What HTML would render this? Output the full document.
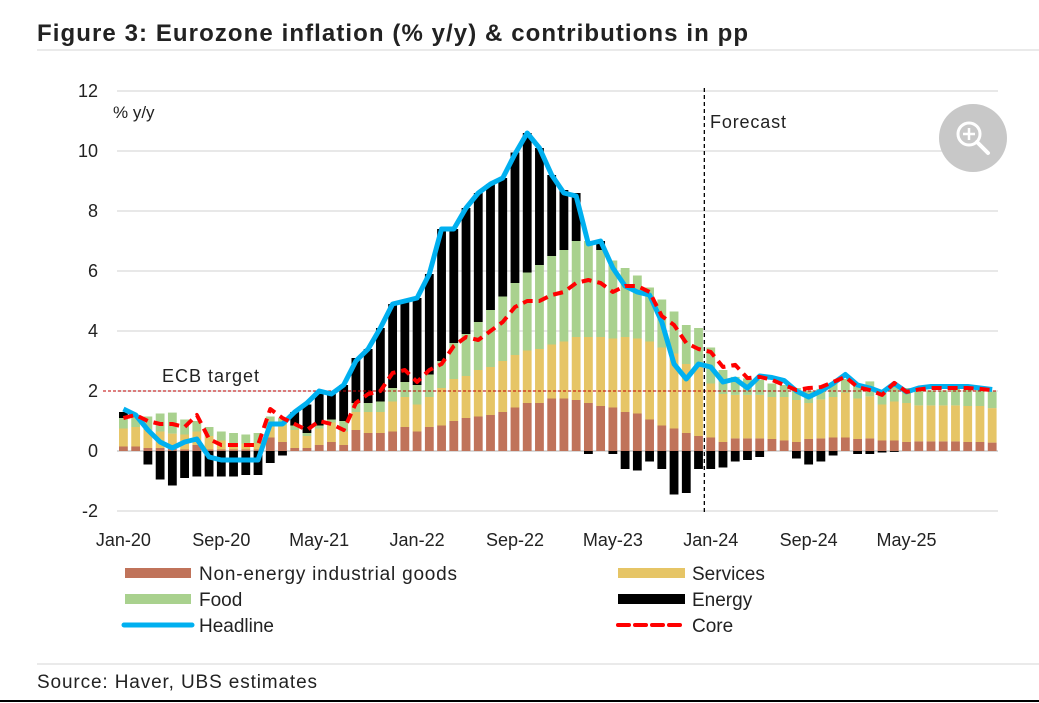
<!DOCTYPE html>
<html><head><meta charset="utf-8"><style>
html,body{margin:0;padding:0;background:#fff;width:1039px;height:703px;overflow:hidden;font-family:"Liberation Sans",sans-serif;}
svg text{font-family:"Liberation Sans",sans-serif;}
</style></head><body>
<svg id="chart" width="1039" height="703" xmlns="http://www.w3.org/2000/svg">
<text x="37" y="41" font-size="24" font-weight="bold" fill="#222" textLength="711" lengthAdjust="spacing">Figure 3: Eurozone inflation (% y/y) &amp; contributions in pp</text>
<line x1="37" y1="50" x2="1039" y2="50" stroke="#d4d4d4" stroke-width="1"/>
<g id="grid"></g><g id="bars"></g><g id="lines"></g><g id="axes"></g>
<text x="113" y="118" font-size="17" fill="#222">% y/y</text>
<text x="162" y="382" font-size="18" fill="#222" textLength="97" lengthAdjust="spacing">ECB target</text>
<text x="710" y="128" font-size="18" fill="#222" textLength="76" lengthAdjust="spacing">Forecast</text>
<g>
<circle cx="973" cy="138" r="34" fill="#c8c8c8"/>
<circle cx="969" cy="134" r="11" fill="none" stroke="#fff" stroke-width="3"/>
<line x1="977" y1="142" x2="988" y2="153" stroke="#fff" stroke-width="4" stroke-linecap="round"/>
<line x1="963" y1="134" x2="975" y2="134" stroke="#fff" stroke-width="2.5"/>
<line x1="969" y1="128" x2="969" y2="140" stroke="#fff" stroke-width="2.5"/>
</g>
<g font-size="19" fill="#222">
<rect x="125" y="568" width="66" height="10" fill="#c0735a"/>
<text x="199" y="580" textLength="258" lengthAdjust="spacing">Non-energy industrial goods</text>
<rect x="125" y="594" width="66" height="10" fill="#a9d18e"/>
<text x="199" y="606">Food</text>
<line x1="124" y1="625" x2="192" y2="625" stroke="#00b0f0" stroke-width="5" stroke-linecap="round"/>
<text x="199" y="632">Headline</text>
<rect x="618" y="568" width="67" height="10" fill="#e6c566"/>
<text x="692" y="580">Services</text>
<rect x="618" y="594" width="67" height="10" fill="#000"/>
<text x="692" y="606">Energy</text>
<line x1="618" y1="625" x2="685" y2="625" stroke="#f00" stroke-width="4" stroke-dasharray="11,6" stroke-linecap="round"/>
<text x="692" y="632">Core</text>
</g>
<line x1="37" y1="664" x2="1039" y2="664" stroke="#d4d4d4"/>
<text x="37" y="688" font-size="19" fill="#222" textLength="280" lengthAdjust="spacing">Source: Haver, UBS estimates</text>
<line x1="0" y1="701" x2="1039" y2="701" stroke="#000" stroke-width="2"/>
</svg>
<script>
const months = ["Jan-20","Feb-20","Mar-20","Apr-20","May-20","Jun-20","Jul-20","Aug-20","Sep-20","Oct-20","Nov-20","Dec-20","Jan-21","Feb-21","Mar-21","Apr-21","May-21","Jun-21","Jul-21","Aug-21","Sep-21","Oct-21","Nov-21","Dec-21","Jan-22","Feb-22","Mar-22","Apr-22","May-22","Jun-22","Jul-22","Aug-22","Sep-22","Oct-22","Nov-22","Dec-22","Jan-23","Feb-23","Mar-23","Apr-23","May-23","Jun-23","Jul-23","Aug-23","Sep-23","Oct-23","Nov-23","Dec-23","Jan-24","Feb-24","Mar-24","Apr-24","May-24","Jun-24","Jul-24","Aug-24","Sep-24","Oct-24","Nov-24","Dec-24","Jan-25","Feb-25","Mar-25","Apr-25","May-25","Jun-25","Jul-25","Aug-25","Sep-25","Oct-25","Nov-25","Dec-25"];
const neig = [0.15,0.15,0.1,0.1,0.08,0.05,0.2,0.05,0.05,0.05,0.05,0.05, 0.45,0.3,0.1,0.1,0.2,0.3,0.2,0.7,0.6,0.6,0.65,0.8, 0.65,0.8,0.85,1.0,1.1,1.15,1.2,1.3,1.45,1.6,1.6,1.75, 1.75,1.7,1.6,1.5,1.45,1.3,1.25,1.05,0.85,0.75,0.6,0.5, 0.45,0.3,0.42,0.42,0.42,0.4,0.35,0.3,0.4,0.42,0.45,0.45, 0.4,0.42,0.35,0.35,0.3,0.32,0.32,0.32,0.32,0.3,0.3,0.28];
const services = [0.6,0.65,0.6,0.55,0.5,0.5,0.45,0.45,0.3,0.2,0.2,0.2, 0.4,0.55,0.6,0.4,0.55,0.65,0.45,0.6,0.7,0.7,1.0,1.0, 0.9,1.0,1.25,1.4,1.4,1.55,1.6,1.7,1.75,1.75,1.8,1.8, 1.9,2.1,2.2,2.3,2.3,2.5,2.5,2.6,2.6,2.5,2.3,2.3, 1.8,1.6,1.45,1.45,1.45,1.4,1.45,1.4,1.2,1.3,1.35,1.5, 1.35,1.4,1.2,1.3,1.3,1.2,1.2,1.2,1.2,1.2,1.2,1.15];
const food = [0.35,0.4,0.45,0.6,0.7,0.5,0.35,0.3,0.3,0.35,0.3,0.35, 0.3,0.25,0.15,0.1,0.1,0.1,0.35,0.3,0.3,0.35,0.45,0.5, 0.65,0.75,0.9,1.2,1.4,1.6,1.9,2.15,2.4,2.6,2.8,2.95, 3.05,3.2,3.2,2.9,2.6,2.3,2.1,1.8,1.6,1.4,1.3,1.3, 1.2,0.8,0.6,0.55,0.5,0.45,0.4,0.4,0.4,0.35,0.45,0.45, 0.5,0.5,0.5,0.5,0.5,0.55,0.5,0.5,0.55,0.55,0.55,0.55];
const energy = [0.2,0.0,-0.45,-0.95,-1.15,-0.9,-0.85,-0.85,-0.85,-0.85,-0.8,-0.8, -0.4,-0.15,0.45,0.95,1.15,0.85,1.2,1.5,1.8,2.45,2.8,2.7, 2.9,3.35,4.4,3.8,4.2,4.3,4.2,3.95,4.35,4.65,3.9,2.7, 2.0,1.6,-0.1,0.3,-0.1,-0.6,-0.65,-0.35,-0.6,-1.45,-1.4,-0.6, -0.6,-0.55,-0.35,-0.3,-0.2,0,0,-0.25,-0.45,-0.35,-0.15,0, -0.1,-0.1,-0.05,-0.03,0,0,0,0,0,0,0,0];
const headline = [1.4,1.2,0.7,0.3,0.1,0.3,0.4,-0.2,-0.3,-0.3,-0.3,-0.3, 0.9,0.9,1.3,1.6,2.0,1.9,2.2,3.0,3.4,4.1,4.9,5.0, 5.1,5.9,7.4,7.4,8.1,8.6,8.9,9.1,9.9,10.6,10.1,9.2, 8.6,8.5,6.9,7.0,6.1,5.5,5.3,5.2,4.3,2.9,2.4,2.9, 2.8,2.3,2.4,2.1,2.5,2.45,2.35,2.0,1.8,2.0,2.25,2.55, 2.2,2.1,1.95,2.25,1.97,2.1,2.15,2.15,2.15,2.15,2.1,2.05];
const core = [1.1,1.2,1.0,0.9,0.9,0.8,1.2,0.4,0.2,0.2,0.2,0.2, 1.4,1.1,0.9,0.7,1.0,0.9,0.7,1.6,1.9,2.0,2.6,2.7, 2.3,2.7,2.9,3.5,3.8,3.7,4.0,4.3,4.8,5.0,5.0,5.2, 5.3,5.6,5.7,5.6,5.3,5.5,5.5,5.3,4.5,4.2,3.6,3.4, 3.3,2.8,2.87,2.43,2.47,2.37,2.2,2.03,2.1,2.13,2.3,2.47, 2.13,2.03,1.87,2.27,1.97,2.05,2.1,2.1,2.1,2.1,2.07,2.03];
const yTicks = [-2,0,2,4,6,8,10,12];
const xTickEvery = 8;
const ecbTarget = 2;
const forecastStart = 47.5;

const NS="http://www.w3.org/2000/svg";
const X0=117, X1=998, band=(X1-X0)/72;
const xc=i=>X0+band*(i+0.5)+0.3;
const y=v=>451-v*30;
function mk(tag,attrs,parent){const e=document.createElementNS(NS,tag);for(const k in attrs)e.setAttribute(k,attrs[k]);document.getElementById(parent).appendChild(e);return e;}

yTicks.forEach(t=>{
  const l=mk('line',{x1:X0,x2:X1,y1:y(t),y2:y(t),stroke:'#d9d9d9','stroke-width':t===0?2:1.3},'grid');
  
  
  const tx=mk('text',{x:98,y:y(t)+6,'text-anchor':'end','font-size':18,fill:'#222'},'axes');
  tx.textContent=t;
  
  
});
months.forEach((m,i)=>{
  if(i%xTickEvery===0){
    const tx=mk('text',{x:xc(i),y:546,'text-anchor':'middle','font-size':18,fill:'#222'},'axes');
    tx.textContent=m;
    
    
  }
});
const bw=band*0.72;
const series=[[neig,'#c0735a','bar-neig'],[services,'#e6c566','bar-services'],[food,'#a9d18e','bar-food'],[energy,'#000','bar-energy']];
months.forEach((m,i)=>{
  let pos=0,neg=0;
  series.forEach(([arr,col,nm])=>{
    const v=arr[i];let a,b;
    if(v>=0){a=pos;b=pos+v;pos=b;}else{a=neg;b=neg+v;neg=b;}
    const top=y(Math.max(a,b)),h=Math.abs(y(a)-y(b));
    const r=mk('rect',{x:xc(i)-bw/2,y:top,width:bw,height:h,fill:col},'bars');
    
    
  });
});
const ecb=mk('line',{x1:X0-14,x2:X1,y1:y(ecbTarget),y2:y(ecbTarget),stroke:'#c00000','stroke-width':1,'stroke-dasharray':'3,2'},'lines');


const fx=X0+band*(forecastStart+0.5);
const fl=mk('line',{x1:fx,x2:fx,y1:88,y2:515,stroke:'#000','stroke-width':1.3,'stroke-dasharray':'4,3'},'lines');


const hp=mk('polyline',{points:headline.map((v,i)=>xc(i)+','+y(v)).join(' '),fill:'none',stroke:'#00b0f0','stroke-width':5,'stroke-linejoin':'round'},'lines');


const cp=mk('polyline',{points:core.map((v,i)=>xc(i)+','+y(v)).join(' '),fill:'none',stroke:'#f00','stroke-width':4,'stroke-dasharray':'10,6','stroke-linejoin':'round'},'lines');


</script>
</body></html>
